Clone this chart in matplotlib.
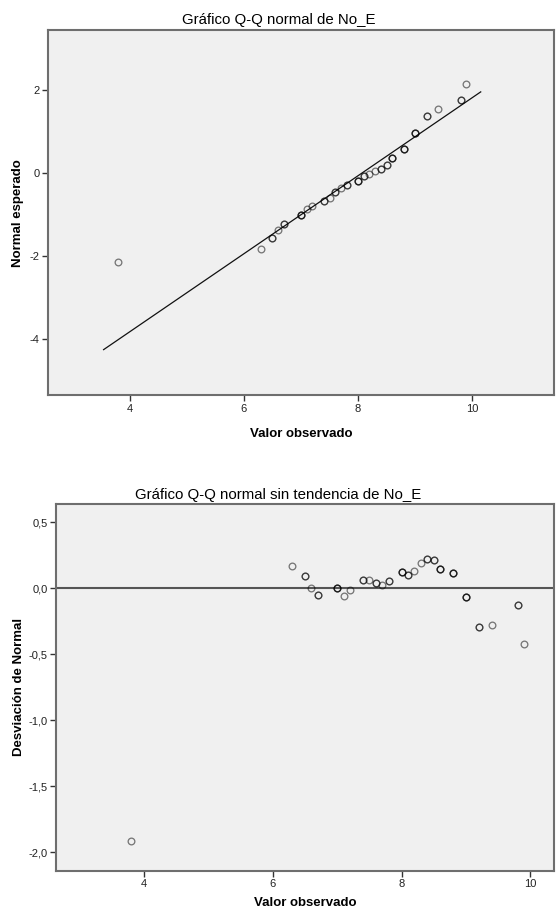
import matplotlib
matplotlib.use("Agg")
import matplotlib.pyplot as plt
from matplotlib.ticker import FuncFormatter

plt.rcParams['font.family'] = ['Liberation Sans', 'DejaVu Sans']
plt.rcParams['axes.unicode_minus'] = False

# valores observados (unicos) y su frecuencia aproximada
obs = [3.8, 6.3, 6.5, 6.6, 6.7, 7.0, 7.1, 7.2, 7.4, 7.5, 7.6, 7.7, 7.8,
       8.0, 8.1, 8.2, 8.3, 8.4, 8.5, 8.6, 8.8, 9.0, 9.2, 9.4, 9.8, 9.9]
freq = [1, 1, 2, 1, 2, 3, 1, 1, 2, 1, 2, 1, 2,
        3, 2, 1, 1, 2, 2, 3, 3, 3, 2, 1, 2, 1]
# normal esperado
esperado = [-2.14, -1.83, -1.57, -1.38, -1.24, -1.01, -0.86, -0.79, -0.69,
            -0.60, -0.47, -0.37, -0.30, -0.19, -0.07, -0.02, 0.04, 0.10,
            0.19, 0.36, 0.58, 0.95, 1.37, 1.53, 1.75, 2.15]
# desviacion de normal
desv = [-1.917, 0.167, 0.093, 0.002, -0.048, 0.005, -0.055, -0.015, 0.066,
        0.063, 0.043, 0.028, 0.058, 0.124, 0.098, 0.134, 0.189, 0.225,
        0.217, 0.149, 0.116, -0.063, -0.293, -0.275, -0.124, -0.419]
# recta de referencia
recta_x = [3.54, 10.15]
recta_y = [-4.26, 1.95]

bg = '#f0f0f0'
spine_c = '#6e6e6e'


def estilo(ax):
    ax.set_facecolor(bg)
    for s in ax.spines.values():
        s.set_color(spine_c)
        s.set_linewidth(1.5)
    ax.tick_params(direction='out', length=4, width=1, color='#333333',
                   labelsize=8, labelcolor='#222222', pad=2)


def puntos(ax, xs, ys, ns):
    for x, y, n in zip(xs, ys, ns):
        for _ in range(n):
            ax.plot([x], [y], 'o', ms=4.8, mfc='none', mec=(0, 0, 0, 0.5),
                    mew=0.95, zorder=3)


fig = plt.figure(figsize=(5.57, 9.10), dpi=100)

ax1 = fig.add_axes([0.0856, 0.5656, 0.9096, 0.4014])
estilo(ax1)
ax1.plot(recta_x, recta_y, color='#111111', lw=0.9, zorder=2)
puntos(ax1, obs, esperado, freq)
ax1.set_xlim(2.56, 11.44)
ax1.set_ylim(-5.36, 3.44)
ax1.set_xticks([4, 6, 8, 10])
ax1.set_yticks([-4, -2, 0, 2])
ax1.set_xlabel('Valor observado', fontsize=9.5, fontweight='bold', labelpad=10)
ax1.set_ylabel('Normal esperado', fontsize=9.5, fontweight='bold', labelpad=4)
fig.text(0.5, 1 - 20 / 910, 'Gráfico Q-Q normal de No_E', ha='center',
         va='center', fontsize=10.8)

ax2 = fig.add_axes([0.1009, 0.0432, 0.8943, 0.403])
estilo(ax2)
ax2.axhline(0, color='#555555', lw=1.5, zorder=2)
puntos(ax2, obs, desv, freq)
ax2.set_xlim(2.64, 10.37)
ax2.set_ylim(-2.14, 0.64)
ax2.set_xticks([4, 6, 8, 10])
ax2.set_yticks([-2.0, -1.5, -1.0, -0.5, 0.0, 0.5])
ax2.yaxis.set_major_formatter(FuncFormatter(
    lambda v, p: ('%.1f' % v).replace('.', ',')))
ax2.set_xlabel('Valor observado', fontsize=9.5, fontweight='bold', labelpad=6)
ax2.set_ylabel('Desviación de Normal', fontsize=9.5, fontweight='bold',
               labelpad=3)
fig.text(0.5, 1 - 495 / 910, 'Gráfico Q-Q normal sin tendencia de No_E',
         ha='center', va='center', fontsize=10.8)

fig.savefig('out.png', dpi=100, facecolor='white')
